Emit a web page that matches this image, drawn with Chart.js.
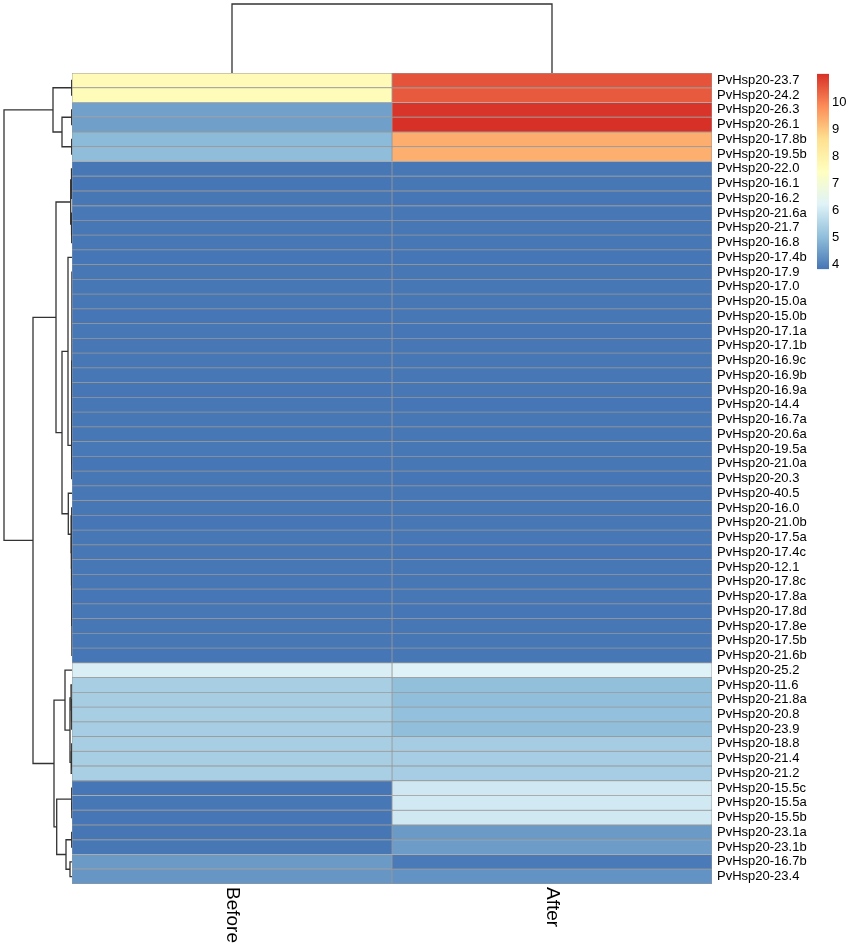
<!DOCTYPE html>
<html>
<head>
<meta charset="utf-8">
<script src="https://cdn.jsdelivr.net/npm/chart.js@4.4.1/dist/chart.umd.min.js"></script>
<style>
  html, body { margin: 0; padding: 0; background: #fff; }
  #wrap { position: relative; width: 850px; height: 948px; overflow: hidden; }
  #wrap canvas { position: absolute; }
</style>
</head>
<body>
<div id="wrap">
  <canvas id="heat" width="850" height="948" style="left:0px;top:0px"></canvas>
  <canvas id="rowTree" width="72" height="811" style="left:0px;top:73px"></canvas>
  <canvas id="colTree" width="640" height="73" style="left:72px;top:0px"></canvas>
  <canvas id="key" width="33" height="217" style="left:817px;top:63px"></canvas>
</div>
<script>
const genes = [
  "PvHsp20-23.7", "PvHsp20-24.2", "PvHsp20-26.3", "PvHsp20-26.1", "PvHsp20-17.8b", "PvHsp20-19.5b",
  "PvHsp20-22.0", "PvHsp20-16.1", "PvHsp20-16.2", "PvHsp20-21.6a", "PvHsp20-21.7", "PvHsp20-16.8",
  "PvHsp20-17.4b", "PvHsp20-17.9", "PvHsp20-17.0", "PvHsp20-15.0a", "PvHsp20-15.0b", "PvHsp20-17.1a",
  "PvHsp20-17.1b", "PvHsp20-16.9c", "PvHsp20-16.9b", "PvHsp20-16.9a", "PvHsp20-14.4", "PvHsp20-16.7a",
  "PvHsp20-20.6a", "PvHsp20-19.5a", "PvHsp20-21.0a", "PvHsp20-20.3", "PvHsp20-40.5", "PvHsp20-16.0",
  "PvHsp20-21.0b", "PvHsp20-17.5a", "PvHsp20-17.4c", "PvHsp20-12.1", "PvHsp20-17.8c", "PvHsp20-17.8a",
  "PvHsp20-17.8d", "PvHsp20-17.8e", "PvHsp20-17.5b", "PvHsp20-21.6b", "PvHsp20-25.2", "PvHsp20-11.6",
  "PvHsp20-21.8a", "PvHsp20-20.8", "PvHsp20-23.9", "PvHsp20-18.8", "PvHsp20-21.4", "PvHsp20-21.2",
  "PvHsp20-15.5c", "PvHsp20-15.5a", "PvHsp20-15.5b", "PvHsp20-23.1a", "PvHsp20-23.1b", "PvHsp20-16.7b",
  "PvHsp20-23.4"
];
const columns = ["Before", "After"];

const before = [
  7.62, 7.58, 4.52, 4.50, 4.95, 5.00,
  3.86, 3.84, 3.85, 3.87, 3.85, 3.86, 3.84, 3.85, 3.86, 3.85,
  3.84, 3.85, 3.86, 3.85, 3.85, 3.84, 3.86, 3.85, 3.85, 3.87,
  3.84, 3.86, 3.85, 3.85, 3.84, 3.86, 3.85, 3.85, 3.86, 3.84,
  3.85, 3.85, 3.86, 3.84,
  6.12, 5.38, 5.36, 5.37, 5.35, 5.38, 5.37, 5.39,
  3.84, 3.85, 3.84, 3.83, 3.85, 4.42, 4.36
];
const after = [
  10.60, 10.50, 11.00, 11.05, 9.38, 9.35,
  3.85, 3.86, 3.84, 3.85, 3.86, 3.85, 3.84, 3.86, 3.85, 3.85,
  3.86, 3.84, 3.85, 3.85, 3.86, 3.85, 3.84, 3.85, 3.86, 3.85,
  3.85, 3.84, 3.86, 3.85, 3.85, 3.86, 3.84, 3.85, 3.85, 3.86,
  3.84, 3.85, 3.86, 3.85,
  6.20, 5.04, 5.02, 5.05, 5.03, 5.33, 5.35, 5.34,
  5.96, 6.00, 5.98, 4.42, 4.45, 3.90, 4.30
];

// colour key
const keyMin = 3.82, keyMax = 11.05;
const keyTicks = [4, 5, 6, 7, 8, 9, 10];
const keyColors = ["#4575B4", "#91BFDB", "#E0F3F8", "#FFFFBF", "#FEE090", "#FC8D59", "#D73027"];

// row clustering: [height, child, child, ...], leaves are row numbers
const rowTree =
  [6.8,
    [1.9,
      [0.03, 0, 1],
      [1.0, [0.03, 2, 3], [0.03, 4, 5]]],
    [3.9,
      [1.6,
        [0.13, [0.05, 6, [0.03, 7, 8]], [0.05, 9, [0.03, 10, 11]]],
        [1.0,
          [0.4, 12, [0.03, [0.02, [0.01, 13, 14, 15, 16, 17, 18, 19, 20, 21, 22, 23, 24, 25], 26], 27]],
          [0.37, 28, [0.1, [0.03, 29, 30],
            [0.06, 31, [0.05, 32, [0.04, 33, [0.03, 34, [0.01, 35, 36, 37, 38, 39]]]]]]]]],
      [1.8,
        [0.7, 40, [0.2, [0.1, 41, [0.06, 42, [0.03, 43, 44]]], [0.08, [0.03, 45, 46], 47]]],
        [1.53, [0.03, 48, [0.02, 49, 50]], [0.6, [0.03, 51, 52], [0.2, 53, 54]]]]]];
const colTree = [8.6, 0, 1];

const font = "'Liberation Sans', Arial, Helvetica, sans-serif";

function hexRgb(h) {
  return [parseInt(h.slice(1, 3), 16), parseInt(h.slice(3, 5), 16), parseInt(h.slice(5, 7), 16)];
}
function colorFor(v) {
  let t = (v - keyMin) / (keyMax - keyMin);
  t = Math.max(0, Math.min(1, t)) * (keyColors.length - 1);
  const i = Math.min(Math.floor(t), keyColors.length - 2);
  const f = t - i;
  const a = hexRgb(keyColors[i]), b = hexRgb(keyColors[i + 1]);
  const c = a.map((x, k) => Math.round(x + (b[k] - x) * f));
  return `rgb(${c[0]},${c[1]},${c[2]})`;
}

// walk a tree and collect its elbow lines as {p: leaf position, h: height}
function treeLines(node, out) {
  if (typeof node === "number") return { p: node, h: 0 };
  const h = node[0];
  const kids = node.slice(1).map(k => treeLines(k, out));
  const first = kids[0], last = kids[kids.length - 1];
  out.push([{ p: first.p, h: first.h }, { p: first.p, h }, { p: last.p, h }, { p: last.p, h: last.h }]);
  kids.slice(1, -1).forEach(k => out.push([{ p: k.p, h: k.h }, { p: k.p, h }]));
  return { p: (first.p + last.p) / 2, h };
}

const lineStyle = { showLine: true, borderColor: "#333", borderWidth: 1.3, pointRadius: 0, fill: false };

// heatmap
const colLabels = {
  id: "colLabels",
  afterDraw(chart) {
    const { ctx, chartArea, scales } = chart;
    ctx.save();
    ctx.fillStyle = "#000";
    ctx.font = "19px " + font;
    ctx.textAlign = "left";
    ctx.textBaseline = "middle";
    columns.forEach((c, i) => {
      ctx.save();
      ctx.translate(scales.x.getPixelForValue(i + 0.5), chartArea.bottom + 3);
      ctx.rotate(Math.PI / 2);
      ctx.fillText(c, 0, 0);
      ctx.restore();
    });
    ctx.restore();
  }
};

const series = [before, after];
new Chart(document.getElementById("heat"), {
  type: "bar",
  data: {
    labels: genes,
    datasets: series.map((vals, ci) => ({
      label: columns[ci],
      data: vals.map(() => [ci, ci + 1]),
      backgroundColor: vals.map(colorFor),
      borderColor: "#999999",
      borderWidth: 0.75,
      borderSkipped: false,
      grouped: false,
      barPercentage: 1,
      categoryPercentage: 1
    }))
  },
  options: {
    indexAxis: "y",
    responsive: false,
    animation: false,
    layout: { padding: { left: 72, top: 73, right: 0, bottom: 64 } },
    plugins: { legend: { display: false }, tooltip: { enabled: false } },
    scales: {
      x: { type: "linear", min: 0, max: 2, display: false },
      y: {
        type: "category",
        position: "right",
        grid: { display: false, drawTicks: false },
        border: { display: false },
        ticks: { autoSkip: false, padding: 5, color: "#000", font: { family: font, size: 13 } },
        afterFit(scale) { scale.width = 138; }
      }
    }
  },
  plugins: [colLabels]
});

// row dendrogram
const rowLines = [];
treeLines(rowTree, rowLines);
new Chart(document.getElementById("rowTree"), {
  type: "scatter",
  data: {
    datasets: rowLines.map(pl => Object.assign({ data: pl.map(q => ({ x: q.h, y: q.p })) }, lineStyle))
  },
  options: {
    responsive: false,
    animation: false,
    layout: { padding: 0 },
    plugins: { legend: { display: false }, tooltip: { enabled: false } },
    scales: {
      x: { type: "linear", min: 0, max: 7.2, reverse: true, display: false },
      y: { type: "linear", min: -0.5, max: genes.length - 0.5, reverse: true, display: false }
    }
  }
});

// column dendrogram
const colLines = [];
treeLines(colTree, colLines);
new Chart(document.getElementById("colTree"), {
  type: "scatter",
  data: {
    datasets: colLines.map(pl => Object.assign({ data: pl.map(q => ({ x: q.p, y: q.h })) }, lineStyle))
  },
  options: {
    responsive: false,
    animation: false,
    layout: { padding: 0 },
    plugins: { legend: { display: false }, tooltip: { enabled: false } },
    scales: {
      x: { type: "linear", min: -0.5, max: columns.length - 0.5, display: false },
      y: { type: "linear", min: 0, max: 9.1, display: false }
    }
  }
});

// colour key
new Chart(document.getElementById("key"), {
  type: "bar",
  data: {
    labels: [""],
    datasets: [{
      data: [[keyMin, keyMax]],
      backgroundColor(ctx) {
        const area = ctx.chart.chartArea;
        if (!area) return keyColors[0];
        const g = ctx.chart.ctx.createLinearGradient(0, area.bottom, 0, area.top);
        keyColors.forEach((c, i) => g.addColorStop(i / (keyColors.length - 1), c));
        return g;
      },
      borderWidth: 0,
      barPercentage: 1,
      categoryPercentage: 1
    }]
  },
  options: {
    responsive: false,
    animation: false,
    layout: { padding: { top: 10, bottom: 10, left: 0, right: 0 } },
    plugins: { legend: { display: false }, tooltip: { enabled: false } },
    scales: {
      x: { display: false },
      y: {
        type: "linear",
        position: "right",
        min: keyMin,
        max: keyMax,
        grid: { display: false, drawTicks: false },
        border: { display: false },
        afterBuildTicks(scale) { scale.ticks = keyTicks.map(v => ({ value: v })); },
        ticks: { padding: 3, color: "#000", font: { family: font, size: 13 } },
        afterFit(scale) { scale.width = 21; }
      }
    }
  }
});
</script>
</body>
</html>
